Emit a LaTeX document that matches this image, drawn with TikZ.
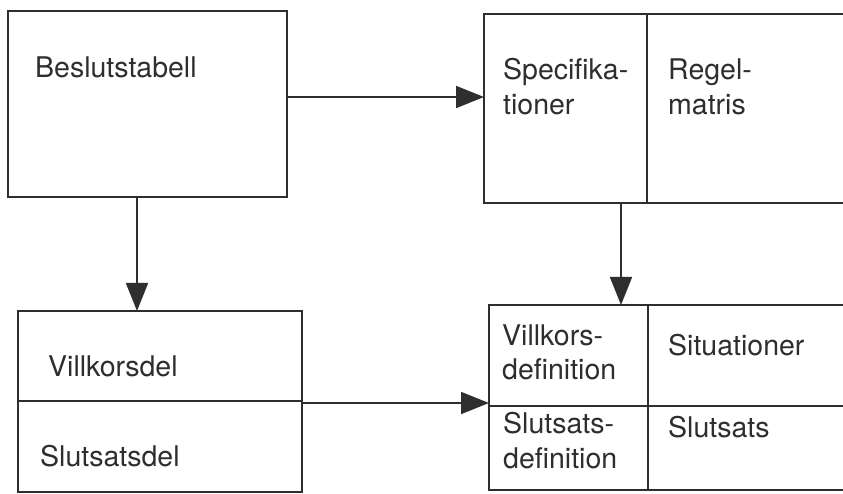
\documentclass[tikz,border=0pt]{standalone}
\usepackage{fontspec}
\setmainfont{TeX Gyre Heros}
\usetikzlibrary{arrows.meta,calc}
\definecolor{ink}{HTML}{2E2E2E}
\tikzset{
  cell/.style={draw=ink, line width=1.6pt, inner sep=0pt, outer sep=0pt, anchor=north west},
  lbl/.style={text=ink, inner sep=0pt, anchor=base west, font=\fontsize{28.5}{35}\selectfont},
  arr/.style={draw=ink, line width=1.6pt, -{Triangle[length=28pt,width=22pt]}}
}
\begin{document}
\begin{tikzpicture}[x=1pt,y=-1pt]
  \useasboundingbox (0,0) rectangle (843,494);
  \fill[white] (0,0) rectangle (843,494);
  \begin{scope}
  \clip (0,0) rectangle (843,494);
  % Decision table
  \node[cell, minimum width=279pt, minimum height=186pt] (bt) at (8,11) {};
  % Specifications / rule matrix
  \node[cell, minimum width=163pt, minimum height=189pt] (spec) at (484,14) {};
  \node[cell, minimum width=230pt, minimum height=189pt] (rm) at (647,14) {};
  % Condition part / conclusion part
  \node[cell, minimum width=284pt, minimum height=90pt] (vk) at (18,311) {};
  \node[cell, minimum width=284pt, minimum height=91pt] (sd) at (18,401) {};
  % Definitions / situations / conclusions
  \node[cell, minimum width=159pt, minimum height=101pt] (vd) at (489,305) {};
  \node[cell, minimum width=230pt, minimum height=101pt] (si) at (648,305) {};
  \node[cell, minimum width=159pt, minimum height=84pt] (sdf) at (489,406) {};
  \node[cell, minimum width=230pt, minimum height=84pt] (sl) at (648,406) {};
  \end{scope}

  % Labels
  \node[lbl] (t1) at (35,78) {Beslutstabell};
  \node[lbl] (t2) at (503,80) {Specifika-};
  \node[lbl] (t3) at (503,115) {tioner};
  \node[lbl] (t4) at (668,80) {Regel-};
  \node[lbl] (t5) at (668,115) {matris};
  \node[lbl] (t6) at (48,376) {Villkorsdel};
  \node[lbl] (t7) at (40,466) {Slutsatsdel};
  \node[lbl] (t8) at (502,345) {Villkors-};
  \node[lbl] (t9) at (502,379) {definition};
  \node[lbl] (t10) at (668,355) {Situationer};
  \node[lbl] (t11) at (503,433) {Slutsats-};
  \node[lbl] (t12) at (503,468) {definition};
  \node[lbl] (t13) at (668,437) {Slutsats};

  % Connectors
  \draw[arr] ([yshift=7pt]bt.east) -- ([yshift=7pt]bt.east -| spec.west);
  \draw[arr] ([xshift=-10.5pt]bt.south) -- ([xshift=-10.5pt]bt.south |- vk.north);
  \draw[arr] ([xshift=-26pt]spec.south east) -- ([xshift=-26pt]spec.south east |- vd.north);
  \draw[arr] ([yshift=-2pt]vk.south east) -- ([yshift=-2pt]vk.south east -| vd.west);
\end{tikzpicture}
\end{document}
